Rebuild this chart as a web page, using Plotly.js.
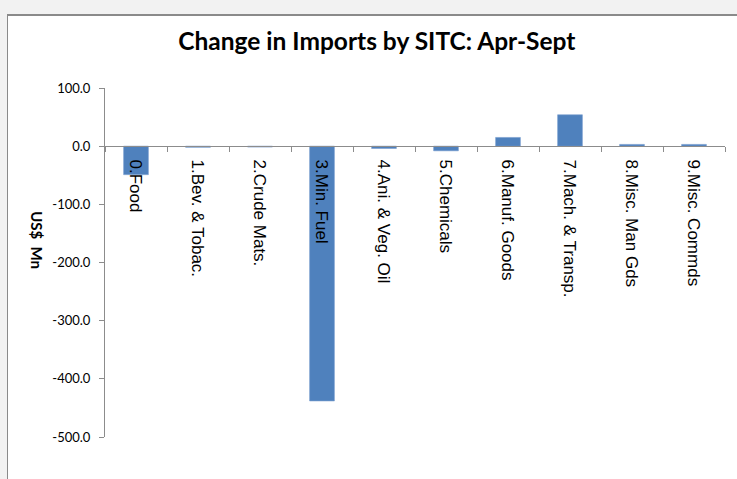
<!DOCTYPE html>
<html>
<head>
<meta charset="utf-8">
<script src="https://cdn.plot.ly/plotly-3.0.1.min.js"></script>
<style>
  html, body { margin: 0; padding: 0; background: #f2f2f2; width: 737px; height: 479px; overflow: hidden; }
  #chart { position: absolute; left: 7px; top: 14px; width: 729px; height: 464px;
           border-left: 1px solid #8a8a8a; border-top: 2px solid #8a8a8a; background: #fff; }
</style>
</head>
<body>
<div id="chart"></div>
<script>
const categories = ["0.Food", "1.Bev. & Tobac.", "2.Crude Mats.", "3.Min. Fuel", "4.Ani. & Veg. Oil",
                    "5.Chemicals", "6.Manuf. Goods", "7.Mach. & Transp.", "8.Misc. Man Gds", "9.Misc. Commds"];
const changeValues = [-49, -2, -1.5, -438, -4, -8, 15, 54, 3, 3];
const yTickValues = [100, 0, -100, -200, -300, -400, -500];
const yTickLabels = ["100.0", "0.0", "-100.0", "-200.0", "-300.0", "-400.0", "-500.0"];

const trace = {
  type: "bar",
  x: categories,
  y: changeValues,
  marker: { color: "#4f81bd", line: { color: "#7a9fd0", width: 0.6 } },
  hoverinfo: "x+y"
};

const layout = {
  width: 729,
  height: 463,
  margin: { l: 97, r: 12, t: 72, b: 42 },
  paper_bgcolor: "#ffffff",
  plot_bgcolor: "#ffffff",
  showlegend: false,
  bargap: 0.6,
  title: {
    text: "<b>Change in Imports by SITC: Apr-Sept</b>",
    font: { family: "Lato", size: 24.5, color: "#000000" },
    x: 0.506, xanchor: "center",
    y: 1 - 25 / 463, yanchor: "middle", yref: "container"
  },
  xaxis: {
    type: "category",
    anchor: "free",
    position: 500 / 600,
    showline: true,
    linecolor: "#8c8c8c",
    linewidth: 1,
    ticks: "outside",
    tickson: "boundaries",
    ticklen: 5,
    tickcolor: "#8c8c8c",
    tickangle: 90,
    ticklabelstandoff: 9,
    tickfont: { family: "Liberation Sans", size: 17, color: "#000000" },
    showgrid: false,
    zeroline: false,
    fixedrange: true
  },
  yaxis: {
    range: [-500, 100],
    tickvals: yTickValues,
    ticktext: yTickLabels,
    showline: true,
    linecolor: "#8c8c8c",
    linewidth: 1,
    ticks: "outside",
    ticklen: 5,
    tickcolor: "#8c8c8c",
    tickfont: { family: "Lato", size: 13, color: "#000000" },
    ticklabelstandoff: 6,
    showgrid: false,
    zeroline: false,
    fixedrange: true
  },
  annotations: [{
    text: "<b>US$  Mn</b>",
    xref: "paper", yref: "paper",
    x: -0.11, y: 0.5645,
    xanchor: "center", yanchor: "middle",
    textangle: 90,
    showarrow: false,
    font: { family: "Lato", size: 15, color: "#000000" }
  }]
};

Plotly.newPlot("chart", [trace], layout, { displayModeBar: false, staticPlot: true });
</script>
</body>
</html>
